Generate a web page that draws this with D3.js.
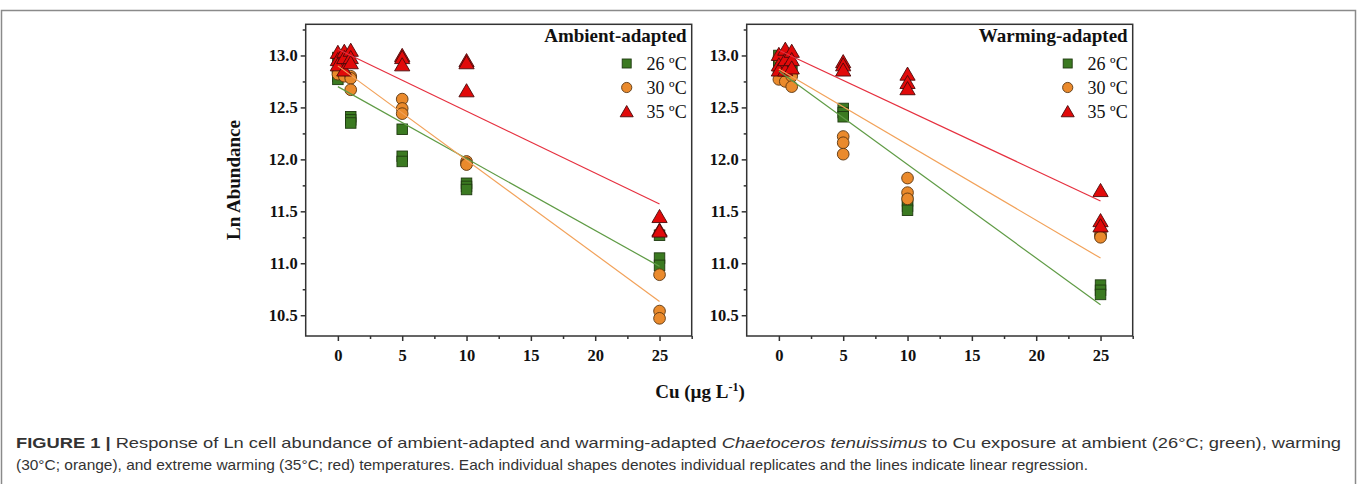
<!DOCTYPE html>
<html><head><meta charset="utf-8">
<script src="https://cdn.jsdelivr.net/npm/d3@7"></script>
<style>body{margin:0;background:#fff}svg{display:block}</style>
</head><body>
<svg id="c" width="1358" height="484"></svg>
<script>
// ---------- data ----------
const temps = ["26 ºC", "30 ºC", "35 ºC"];
const panelTitles = ["Ambient-adapted", "Warming-adapted"];
const xTicks = [0, 5, 10, 15, 20, 25];
const yTicks = [10.5, 11.0, 11.5, 12.0, 12.5, 13.0];

const ambCu26 = [0, 0, 0, 1, 1, 1, 5, 5, 5, 10, 10, 10, 25, 25, 25];
const ambLn26 = [12.98, 12.80, 12.77, 12.41, 12.38, 12.35, 12.29, 12.03, 11.98, 11.77, 11.74, 11.71, 11.27, 11.05, 10.98];
const ambCu30 = [0, 0, 0.5, 1, 1, 1, 5, 5, 5, 10, 10, 10, 25, 25, 25];
const ambLn30 = [12.85, 12.82, 12.80, 12.80, 12.78, 12.67, 12.58, 12.49, 12.44, 11.98, 11.96, 11.95, 10.89, 10.54, 10.47];
const ambCu35 = [0, 0, 0, 0.5, 0.5, 0.5, 1, 1, 1, 5, 5, 5, 10, 10, 10, 25, 25, 25];
const ambLn35 = [13.02, 12.95, 12.90, 13.03, 12.97, 12.85, 13.04, 12.97, 12.92, 12.99, 12.97, 12.90, 12.94, 12.92, 12.65, 11.44, 11.31, 11.30];

const wrmCu26 = [0, 0, 0, 1, 1, 5, 5, 5, 10, 10, 10, 25, 25, 25];
const wrmLn26 = [13.00, 12.95, 12.91, 12.88, 12.85, 12.49, 12.45, 12.41, 11.60, 11.55, 11.51, 10.79, 10.74, 10.70];
const wrmCu30 = [0, 0, 0, 0.5, 1, 1, 5, 5, 5, 10, 10, 10, 25, 25, 25];
const wrmLn30 = [12.98, 12.85, 12.77, 12.75, 12.80, 12.70, 12.22, 12.16, 12.05, 11.82, 11.68, 11.62, 11.28, 11.26, 11.25];
const wrmCu35 = [0, 0, 0, 0.5, 0.5, 0.5, 1, 1, 1, 5, 5, 5, 10, 10, 10, 25, 25, 25];
const wrmLn35 = [13.00, 12.90, 12.85, 13.05, 12.95, 12.85, 13.03, 12.95, 12.87, 12.93, 12.90, 12.85, 12.81, 12.73, 12.67, 11.69, 11.40, 11.35];

// regression lines (intercept, slope) for 26, 30, 35 ºC
const ambFitIntercept = [12.70, 12.90, 13.06];
const ambFitSlope = [-0.0692, -0.0907, -0.0596];
const wrmFitIntercept = [12.85, 12.87, 13.05];
const wrmFitSlope = [-0.0900, -0.0728, -0.0580];
const fitRange = [0, 25];

// ---------- styles ----------
const fillCol = ["#3b7a21", "#ea8a2c", "#e10a0a"];
const lineCol = ["#5f9b45", "#f2a25a", "#e6303f"];
const shapes = ["square", "circle", "triangle"];
const serif = "'Times New Roman','Liberation Serif',serif";

const svg = d3.select("#c");

// outer frame
svg.append("rect").attr("x", 1.5).attr("y", 10.5).attr("width", 1354).attr("height", 490)
  .attr("fill", "none").attr("stroke", "#8a8a8a").attr("stroke-width", 1.5);

const panels = [
  {left: 305.7, title: panelTitles[0],
   series: [[ambCu26, ambLn26], [ambCu30, ambLn30], [ambCu35, ambLn35]],
   fi: ambFitIntercept, fs: ambFitSlope},
  {left: 746.7, title: panelTitles[1],
   series: [[wrmCu26, wrmLn26], [wrmCu30, wrmLn30], [wrmCu35, wrmLn35]],
   fi: wrmFitIntercept, fs: wrmFitSlope}
];
const plotTop = 24.3, plotW = 386, plotH = 311.7;

function marker(g, shape, cx, cy, i, s) {
  if (shape === "square") {
    g.append("rect").attr("x", cx - s / 2).attr("y", cy - s / 2).attr("width", s).attr("height", s)
      .attr("fill", fillCol[i]).attr("stroke", "#1f3a10").attr("stroke-width", 0.9);
  } else if (shape === "circle") {
    g.append("circle").attr("cx", cx).attr("cy", cy).attr("r", s / 2 + 0.6)
      .attr("fill", fillCol[i]).attr("stroke", "#5a3510").attr("stroke-width", 0.9);
  } else {
    const w = s * 1.45, h = s * 1.25;
    g.append("path").attr("d", `M${cx},${cy - h * 0.62}L${cx + w / 2},${cy + h * 0.38}L${cx - w / 2},${cy + h * 0.38}Z`)
      .attr("fill", fillCol[i]).attr("stroke", "#4a0a0a").attr("stroke-width", 0.9);
  }
}

panels.forEach((p) => {
  const x = d3.scaleLinear().domain([-2.5, 27.5]).range([p.left, p.left + plotW]);
  const y = d3.scaleLinear().domain([10.3, 13.3]).range([plotTop + plotH, plotTop]);
  const g = svg.append("g");

  // markers
  p.series.forEach((s, i) => {
    s[0].forEach((cu, k) => marker(g, shapes[i], x(cu), y(s[1][k]), i, 10.5));
  });
  // regression lines
  p.fi.forEach((b0, i) => {
    g.append("line")
      .attr("x1", x(fitRange[0])).attr("y1", y(b0 + p.fs[i] * fitRange[0]))
      .attr("x2", x(fitRange[1])).attr("y2", y(b0 + p.fs[i] * fitRange[1]))
      .attr("stroke", lineCol[i]).attr("stroke-width", 1.2);
  });

  // axes
  const xAxis = g.append("g").attr("transform", `translate(0,${plotTop + plotH})`)
    .call(d3.axisBottom(x).tickValues(xTicks).tickSize(5).tickPadding(6).tickFormat(d3.format("d")));
  const xMinor = g.append("g").attr("transform", `translate(0,${plotTop + plotH})`)
    .call(d3.axisBottom(x).tickValues(xTicks.map(v => v + 2.5)).tickSize(3).tickFormat(""));
  const yAxis = g.append("g").attr("transform", `translate(${p.left},0)`)
    .call(d3.axisLeft(y).tickValues(yTicks).tickSize(5).tickPadding(3).tickFormat(d3.format(".1f")));
  const yMinor = g.append("g").attr("transform", `translate(${p.left},0)`)
    .call(d3.axisLeft(y).tickValues(yTicks.map(v => v + 0.25)).tickSize(3).tickFormat(""));
  [xAxis, xMinor, yAxis, yMinor].forEach(a => {
    a.select(".domain").remove();
    a.selectAll("line").attr("stroke", "#333").attr("stroke-width", 1.5);
    a.selectAll("text").attr("font-family", serif).attr("font-weight", "bold")
      .attr("font-size", 16.5).attr("fill", "#111");
  });
  xAxis.selectAll("text").attr("dy", "0.85em");

  // frame box
  g.append("rect").attr("x", p.left).attr("y", plotTop).attr("width", plotW).attr("height", plotH)
    .attr("fill", "none").attr("stroke", "#333").attr("stroke-width", 1.5);

  // title
  const rx = p.left + plotW - 5;
  g.append("text").attr("x", rx).attr("y", 42).attr("text-anchor", "end")
    .attr("font-family", serif).attr("font-weight", "bold").attr("font-size", 19)
    .attr("fill", "#111").text(p.title);
  // legend
  temps.forEach((t, i) => {
    const ly = 63.5 + i * 24;
    marker(g, shapes[i], rx - 60, ly + (i === 2 ? 1 : 0), i, 9);
    g.append("text").attr("x", rx).attr("y", ly + 6).attr("text-anchor", "end")
      .attr("font-family", serif).attr("font-size", 18).attr("fill", "#111").text(t);
  });
});

// axis titles
svg.append("text").attr("transform", `translate(240,180) rotate(-90)`).attr("text-anchor", "middle")
  .attr("font-family", serif).attr("font-weight", "bold").attr("font-size", 19).attr("fill", "#111")
  .text("Ln Abundance");
const xt = svg.append("text").attr("x", 700).attr("y", 398).attr("text-anchor", "middle")
  .attr("font-family", serif).attr("font-weight", "bold").attr("font-size", 19).attr("fill", "#111");
xt.append("tspan").text("Cu (µg L");
xt.append("tspan").attr("font-size", 12).attr("dy", -7).text("-1");
xt.append("tspan").attr("dy", 7).text(")");

// caption
const sans = "'Liberation Sans',Arial,Helvetica,sans-serif";
const c1 = svg.append("text").attr("x", 16).attr("y", 448).attr("font-family", sans).attr("font-size", 14.5)
  .attr("fill", "#333").attr("textLength", 1325).attr("lengthAdjust", "spacingAndGlyphs");
c1.append("tspan").attr("font-weight", "bold").text("FIGURE 1 | ");
c1.append("tspan").text("Response of Ln cell abundance of ambient-adapted and warming-adapted ");
c1.append("tspan").attr("font-style", "italic").text("Chaetoceros tenuissimus");
c1.append("tspan").text(" to Cu exposure at ambient (26°C; green), warming");
svg.append("text").attr("x", 16).attr("y", 470).attr("font-family", sans).attr("font-size", 14.5)
  .attr("fill", "#333").attr("textLength", 1072).attr("lengthAdjust", "spacingAndGlyphs")
  .text("(30°C; orange), and extreme warming (35°C; red) temperatures. Each individual shapes denotes individual replicates and the lines indicate linear regression.");
</script>
</body></html>
